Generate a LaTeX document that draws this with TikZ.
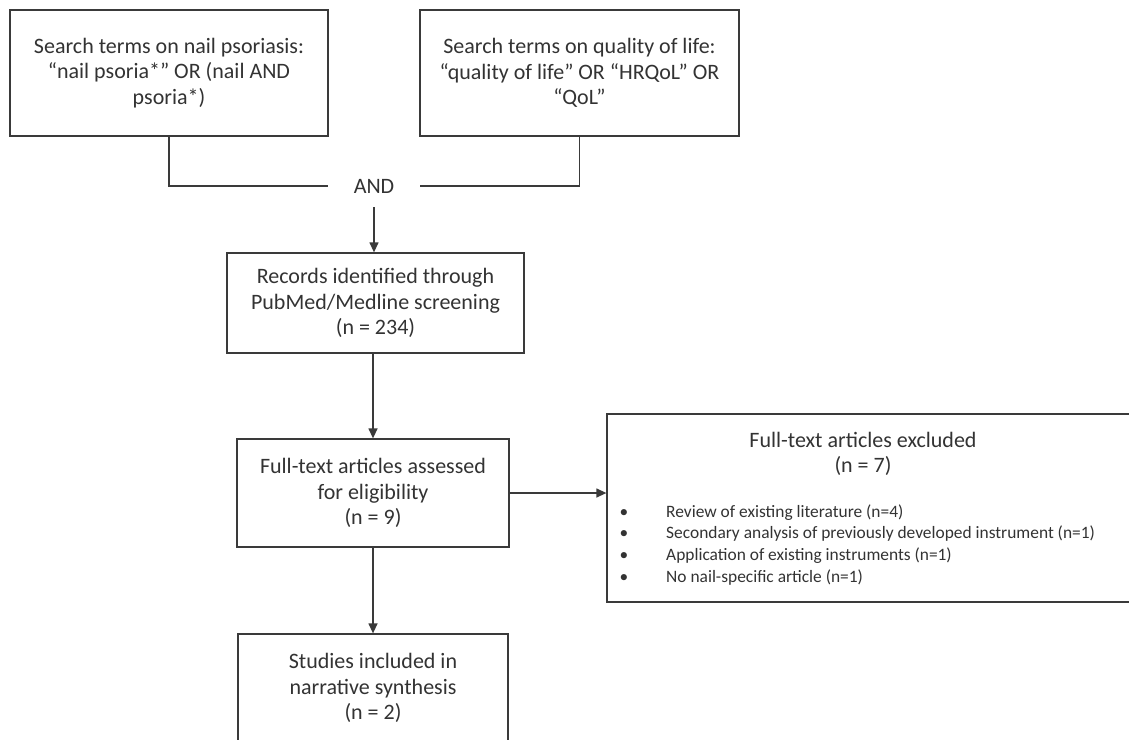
\documentclass[tikz,border=0pt]{standalone}
\usepackage{fontspec}
\setmainfont{Carlito}
\usetikzlibrary{arrows.meta}
\definecolor{ln}{HTML}{3A3A3A}
\definecolor{tx}{HTML}{333333}
\begin{document}
\begin{tikzpicture}[x=1pt,y=-1pt,
  box/.style={draw=ln, line width=1.3pt, rectangle, inner sep=0pt, text=tx, align=center,
    font=\fontsize{22}{25.5}\selectfont},
  lbl/.style={inner sep=0pt, text=tx, align=center, font=\fontsize{22}{25.5}\selectfont},
  itm/.style={inner sep=0pt, text=tx, font=\fontsize{17.4}{21}\selectfont},
  con/.style={draw=ln, line width=1.3pt},
  arr/.style={con, -{Triangle[length=10pt,width=9pt]}}]
\useasboundingbox (0,0) rectangle (1129,739);
\clip (0,0) rectangle (1129,739);
\fill[white] (0,0) rectangle (1129,739);

\node[box, minimum width=318pt, minimum height=126pt] (A) at (169,73)
  {Search terms on nail psoriasis:\\“nail psoria*” OR (nail AND\\psoria*)};
\node[box, minimum width=319pt, minimum height=126pt] (B) at (579.5,73)
  {Search terms on quality of life:\\“quality of life” OR “HRQoL” OR\\“QoL”};
\node[lbl, minimum width=92pt, minimum height=42pt] (and) at (374,186) {AND};
\node[box, minimum width=297pt, minimum height=100pt] (C) at (375.5,303)
  {Records identified through\\PubMed/Medline screening\\(n = 234)};
\node[box, minimum width=272pt, minimum height=108pt] (D) at (373,493)
  {Full-text articles assessed\\for eligibility\\(n = 9)};
\node[box, minimum width=528pt, minimum height=188pt] (E) at (871,508) {};
\node[lbl, anchor=base] (Et1) at (863,447) {Full-text articles excluded};
\node[lbl, anchor=base] (Et2) at (863,472) {(n = 7)};
\node[box, minimum width=270pt, minimum height=108pt] (F) at (373,688)
  {Studies included in\\narrative synthesis\\(n = 2)};

\node[itm, anchor=base] (b1) at (624,517) {•};
\node[itm, anchor=base] (b2) at (624,538.7) {•};
\node[itm, anchor=base] (b3) at (624,560.3) {•};
\node[itm, anchor=base] (b4) at (624,582) {•};
\node[itm, anchor=base west] (i1) at (666,517) {Review of existing literature (n=4)};
\node[itm, anchor=base west] (i2) at (666,538.7) {Secondary analysis of previously developed instrument (n=1)};
\node[itm, anchor=base west] (i3) at (666,560.3) {Application of existing instruments (n=1)};
\node[itm, anchor=base west] (i4) at (666,582) {No nail-specific article (n=1)};

\draw[con] (A.south) |- (and.west);
\draw[con] (B.south) |- (and.east);
\draw[arr] (and.south) -- (and.south |- C.north);
\draw[arr] (D.north |- C.south) -- (D.north);
\draw[arr] (D.east) -- (E.west |- D.east);
\draw[arr] (D.south) -- (F.north);
\end{tikzpicture}
\end{document}
